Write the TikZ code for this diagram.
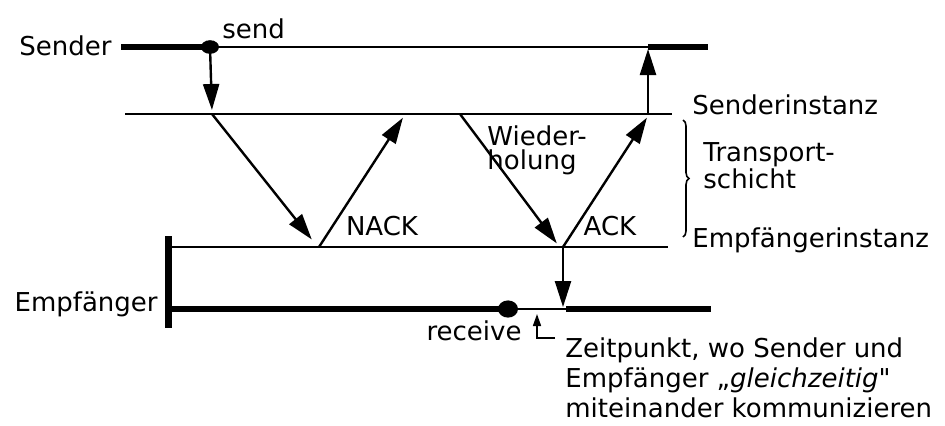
\documentclass[tikz,border=0pt]{standalone}
\usepackage{fontspec}
\setmainfont{DejaVu Sans}
\usetikzlibrary{arrows.meta,decorations.pathreplacing}

\begin{document}
\begin{tikzpicture}[x=0.5pt, y=-0.5pt, every node/.style={font=\fontsize{13}{15}\selectfont, inner sep=0pt},
	>={Triangle[length=13pt,width=8pt]},
	thinline/.style={line width=0.8pt},
	axisline/.style={line width=3pt},
	msg/.style={->, line width=1.2pt, shorten >=1pt}]
	\useasboundingbox (0,0) rectangle (945,425);
	% Zeitpunkte
	\coordinate (sa) at (121,47);
	\coordinate (send) at (210,47);
	\coordinate (sb) at (648,47);
	\coordinate (se) at (708,47);
	\coordinate (ia) at (125,114);
	\coordinate (i1) at (212,114);
	\coordinate (i2) at (404,116);
	\coordinate (i3) at (460,114);
	\coordinate (i4) at (648,116);
	\coordinate (ib) at (672,114);
	\coordinate (ea) at (172,247);
	\coordinate (e1) at (313,241);
	\coordinate (e2) at (319,247);
	\coordinate (e3) at (558,245);
	\coordinate (e4) at (563,247);
	\coordinate (eb) at (668,247);
	\coordinate (ra) at (168,309);
	\coordinate (recv) at (508,309);
	\coordinate (rb) at (566,309);
	\coordinate (re) at (711,309);
	\coordinate (bar1) at (168,236);
	\coordinate (bar2) at (168,328);
	% Zeitachsen
	\draw[axisline] (sa) -- (send);
	\draw[thinline] (send) -- (sb);
	\draw[axisline] (sb) -- (se);
	\draw[thinline] (ia) -- (ib);
	\draw[thinline] (ea) -- (eb);
	\draw[line width=3.5pt] (bar1) -- (bar2);
	\draw[axisline] (ra) -- (recv);
	\draw[thinline] (recv) -- (rb);
	\draw[axisline] (rb) -- (re);
	\fill (send) ellipse [x radius=4.5pt, y radius=3.4pt];
	\fill (recv) ellipse [x radius=5pt, y radius=4.3pt];
	% Nachrichten
	\draw[msg] (send) -- (i1 |- 0,112);
	\draw[msg] (i1) -- (e1);
	\draw[msg] (e2) -- (i2);
	\draw[msg] (i3) -- (e3);
	\draw[msg] (e4) -- (i4);
	\draw[msg] (i4 |- ia) -- (sb);
	\draw[msg] (e4) -- (rb -| e4);
	\draw[thinline, decorate, decoration={brace, amplitude=3pt}] (683,120) -- (683,237);
	% Beschriftungen
	\node[anchor=east] (sender) at (112,46) {Sender};
	\node[anchor=west] (sendlbl) at (222,29) {send};
	\node[anchor=east] (empf) at (158,304) {Empfänger};
	\node (recvlbl) at (474,331) {receive};
	\node[anchor=west] (sinst) at (692,105) {Senderinstanz};
	\node[anchor=west] (einst) at (692,240) {Empfängerinstanz};
	\node[anchor=west, align=left, font=\fontsize{13}{10.5}\selectfont] (ts) at (703,166) {Transport-\\schicht};
	\node[anchor=west, align=left, font=\fontsize{13}{12}\selectfont] (wdh) at (487,150) {Wieder-\\holung};
	\node (nack) at (382,226) {NACK};
	\node (ack) at (610,226) {ACK};
	\node[anchor=north west, align=left, font=\fontsize{13}{15}\selectfont] (zeit) at (565,337) {Zeitpunkt, wo Sender und\\Empfänger „\textit{gleichzeitig}\textquotedbl\\miteinander kommunizieren};
	\coordinate (mark) at (537,338);
	\draw[thinline, -{Triangle[length=6pt,width=4pt]}] (zeit.north west |- 0,338) ++(-10,0) -- (mark) -- (537,314);
\end{tikzpicture}
\end{document}
